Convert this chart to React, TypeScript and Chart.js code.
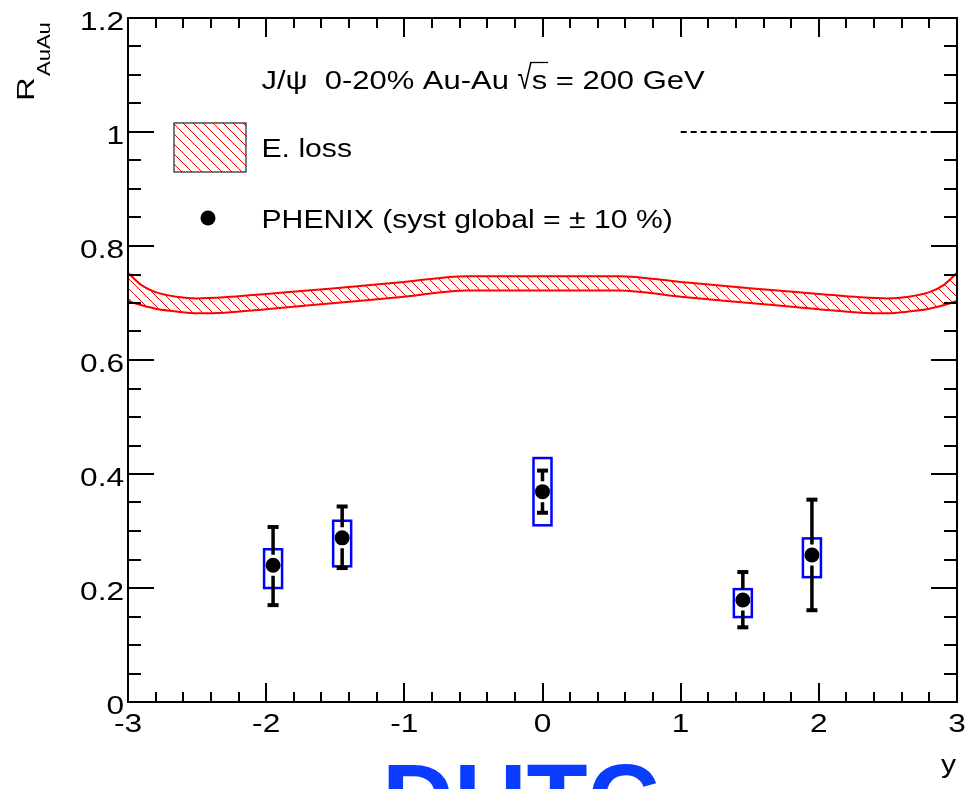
import React, { useEffect, useRef } from 'react';
import { Chart, registerables } from 'chart.js';

Chart.register(...registerables);

// ---- axis ticks ----
const xTickValues = [-3, -2, -1, 0, 1, 2, 3];
const xTickLabels = ['-3', '-2', '-1', '0', '1', '2', '3'];
const yTickValues = [0, 0.2, 0.4, 0.6, 0.8, 1, 1.2];
const yTickLabels = ['0', '0.2', '0.4', '0.6', '0.8', '1', '1.2'];

// ---- E. loss band (rapidity, upper and lower edge of R_AuAu) ----
const bandX = [-3, -2.9, -2.8, -2.65, -2.5, -2.3, -2, -1.5, -1, -0.55, 0, 0.55, 1, 1.5, 2, 2.3, 2.5, 2.65, 2.8, 2.9, 3];
const bandUpper = [0.753, 0.731, 0.719, 0.711, 0.708, 0.71, 0.716, 0.726, 0.737, 0.747, 0.747, 0.747, 0.737, 0.726, 0.716, 0.71, 0.708, 0.711, 0.719, 0.731, 0.753];
const bandLower = [0.7035, 0.696, 0.69, 0.685, 0.682, 0.683, 0.689, 0.7, 0.711, 0.722, 0.722, 0.722, 0.711, 0.7, 0.689, 0.683, 0.682, 0.685, 0.69, 0.696, 0.7035];

// ---- PHENIX J/psi data ----
const phenixRapidity = [-1.95, -1.45, 0, 1.45, 1.95];
const phenixRaa = [0.24, 0.288, 0.369, 0.179, 0.258];
const statHigh = [0.307, 0.343, 0.406, 0.228, 0.355];
const statLow = [0.17, 0.235, 0.332, 0.131, 0.161];
const systHigh = [0.268, 0.318, 0.428, 0.198, 0.287];
const systLow = [0.2, 0.238, 0.31, 0.149, 0.219];

// ---- reference line R = 1 ----
const refLineX = [1, 3];
const refLineY = [1, 1];

// ---- texts ----
const headerText = 'J/ψ  0-20% Au-Au ';
const headerSqrt = '√';
const headerS = 's';
const headerTail = ' = 200 GeV';
const legendBandLabel = 'E. loss';
const legendDataLabel = 'PHENIX (syst global = ± 10 %)';
const yTitleMain = 'R';
const yTitleSub = 'AuAu';
const xTitle = 'y';
const stampText = 'DUTC';

const FONT = '"Liberation Sans", Arial, Helvetica, sans-serif';

function makeHatch(): CanvasPattern | string {
  const s = 10;
  const c = document.createElement('canvas');
  c.width = s;
  c.height = s;
  const g = c.getContext('2d');
  if (!g) return 'rgba(255,0,0,0.3)';
  g.strokeStyle = '#ff0000';
  g.lineWidth = 1;
  g.beginPath();
  for (const o of [-s, 0, s]) {
    g.moveTo(o, 0);
    g.lineTo(o + s, s);
  }
  g.stroke();
  const p = g.createPattern(c, 'repeat');
  return p || 'rgba(255,0,0,0.3)';
}

function drawText(
  ctx: CanvasRenderingContext2D,
  text: string,
  x: number,
  y: number,
  font: string,
  sx: number,
  align: 'left' | 'center' | 'right' = 'left',
  color = '#000',
  sy = 1
) {
  ctx.save();
  ctx.font = font;
  ctx.fillStyle = color;
  ctx.textBaseline = 'alphabetic';
  ctx.textAlign = 'left';
  const w = ctx.measureText(text).width * sx;
  let left = x;
  if (align === 'center') left = x - w / 2;
  if (align === 'right') left = x - w;
  ctx.translate(left, y);
  ctx.scale(sx, sy);
  ctx.fillText(text, 0, 0);
  ctx.restore();
  return w;
}

function drawRotText(
  ctx: CanvasRenderingContext2D,
  text: string,
  baseX: number,
  startY: number,
  font: string,
  sx: number
) {
  ctx.save();
  ctx.font = font;
  ctx.fillStyle = '#000';
  ctx.textBaseline = 'alphabetic';
  ctx.textAlign = 'left';
  ctx.translate(baseX, startY);
  ctx.rotate(-Math.PI / 2);
  ctx.scale(sx, 1);
  ctx.fillText(text, 0, 0);
  ctx.restore();
}

export default function App() {
  const ref = useRef<HTMLCanvasElement | null>(null);

  useEffect(() => {
    const canvas = ref.current;
    if (!canvas) return;
    const hatch = makeHatch();

    const rootPlugin = {
      id: 'rootPlugin',
      beforeDatasetsDraw(chart: any) {
        const ctx: CanvasRenderingContext2D = chart.ctx;
        const xs = chart.scales.x;
        const ys = chart.scales.y;
        const r = 7.5;
        ctx.save();
        for (let i = 0; i < phenixRapidity.length; i++) {
          const px = xs.getPixelForValue(phenixRapidity[i]);
          const py = ys.getPixelForValue(phenixRaa[i]);
          // systematic box
          const bt = ys.getPixelForValue(systHigh[i]);
          const bb = ys.getPixelForValue(systLow[i]);
          ctx.strokeStyle = '#0000ff';
          ctx.lineWidth = 2.5;
          ctx.strokeRect(px - 9, bt, 18, bb - bt);
          // statistical bars
          const st = ys.getPixelForValue(statHigh[i]);
          const sb = ys.getPixelForValue(statLow[i]);
          ctx.strokeStyle = '#000';
          ctx.fillStyle = '#000';
          ctx.lineWidth = 3.5;
          ctx.beginPath();
          if (py - r - 3 > st) {
            ctx.moveTo(px, py - r - 3);
            ctx.lineTo(px, st);
          }
          if (py + r + 3 < sb) {
            ctx.moveTo(px, py + r + 3);
            ctx.lineTo(px, sb);
          }
          ctx.stroke();
          ctx.fillRect(px - 5.5, st - 2, 11, 4);
          ctx.fillRect(px - 5.5, sb - 2, 11, 4);
        }
        ctx.restore();
      },
      afterDraw(chart: any) {
        const ctx: CanvasRenderingContext2D = chart.ctx;
        const xs = chart.scales.x;
        const ys = chart.scales.y;
        const { left, right, top, bottom } = chart.chartArea;
        ctx.save();
        // frame
        ctx.strokeStyle = '#000';
        ctx.lineWidth = 2;
        ctx.strokeRect(left, top, right - left, bottom - top);
        // x ticks (every 0.2, major every 1)
        ctx.lineWidth = 2;
        ctx.beginPath();
        for (let k = -15; k <= 15; k++) {
          const v = k * 0.2;
          const px = Math.round(xs.getPixelForValue(v));
          const len = k % 5 === 0 ? 19 : 10;
          ctx.moveTo(px, bottom);
          ctx.lineTo(px, bottom - len);
          ctx.moveTo(px, top);
          ctx.lineTo(px, top + len);
        }
        // y ticks (every 0.05, major every 0.2)
        for (let k = 0; k <= 24; k++) {
          const v = k * 0.05;
          const py = Math.round(ys.getPixelForValue(v));
          const len = k % 4 === 0 ? 26 : 13;
          ctx.moveTo(left, py);
          ctx.lineTo(left + len, py);
          ctx.moveTo(right, py);
          ctx.lineTo(right - len, py);
        }
        ctx.stroke();

        // tick labels
        const tickFont = `25.5px ${FONT}`;
        const tsx = 1.24;
        xTickValues.forEach((v, i) => {
          drawText(ctx, xTickLabels[i], xs.getPixelForValue(v), 732, tickFont, tsx, 'center');
        });
        yTickValues.forEach((v, i) => {
          drawText(ctx, yTickLabels[i], 124, ys.getPixelForValue(v) + 11.5, tickFont, tsx, 'right');
        });

        // axis titles
        drawRotText(ctx, yTitleMain, 33.5, 101, `23.5px ${FONT}`, 1.4);
        drawRotText(ctx, yTitleSub, 50, 76, `18.5px ${FONT}`, 1.19);
        drawText(ctx, xTitle, 956, 773, `26px ${FONT}`, 1.16, 'right');

        // header
        const lf = `26px ${FONT}`;
        const lsx = 1.16;
        const hsx = 1.19;
        let hx = 261.5;
        hx += drawText(ctx, headerText, hx, 88.5, lf, hsx);
        const sqW = drawText(ctx, headerSqrt, hx, 88.5, lf, 1.0, 'left', '#000', 1.3);
        hx += sqW;
        const sW = drawText(ctx, headerS, hx, 88.5, lf, hsx);
        ctx.strokeStyle = '#000';
        ctx.lineWidth = 1.3;
        ctx.beginPath();
        ctx.moveTo(hx - 1.5, 62.5);
        ctx.lineTo(hx + sW + 1, 62.5);
        ctx.stroke();
        hx += sW;
        drawText(ctx, headerTail, hx, 88.5, lf, hsx);

        // legend: band
        ctx.fillStyle = hatch as any;
        ctx.fillRect(174, 123, 72, 49);
        ctx.strokeStyle = '#222';
        ctx.lineWidth = 1.2;
        ctx.strokeRect(174, 123, 72, 49);
        drawText(ctx, legendBandLabel, 261.5, 157, lf, lsx);
        // legend: data
        ctx.fillStyle = '#000';
        ctx.beginPath();
        ctx.arc(208, 218, 7.5, 0, Math.PI * 2);
        ctx.fill();
        drawText(ctx, legendDataLabel, 261.5, 227.5, lf, lsx);

        // blue stamp, cut by the bottom edge
        drawText(ctx, stampText, 382, 834, `bold 100px ${FONT}`, 1.0, 'left', '#0a3cff');
        ctx.restore();
      },
    };

    const bandUpperData = bandX.map((x, i) => ({ x, y: bandUpper[i] }));
    const bandLowerData = bandX.map((x, i) => ({ x, y: bandLower[i] }));
    const refData = refLineX.map((x, i) => ({ x, y: refLineY[i] }));
    const pointData = phenixRapidity.map((x, i) => ({ x, y: phenixRaa[i] }));

    const chart = new Chart(canvas, {
      type: 'scatter',
      data: {
        datasets: [
          {
            label: 'E. loss upper',
            data: bandUpperData,
            showLine: true,
            borderColor: '#ff0000',
            borderWidth: 2,
            pointRadius: 0,
            fill: false,
            cubicInterpolationMode: 'monotone',
          } as any,
          {
            label: 'E. loss',
            data: bandLowerData,
            showLine: true,
            borderColor: '#ff0000',
            borderWidth: 2,
            pointRadius: 0,
            backgroundColor: hatch as any,
            fill: '-1',
            cubicInterpolationMode: 'monotone',
          } as any,
          {
            label: 'R = 1',
            data: refData,
            showLine: true,
            borderColor: '#000',
            borderWidth: 2,
            borderDash: [6, 4],
            pointRadius: 0,
            fill: false,
          } as any,
          {
            label: 'PHENIX',
            data: pointData,
            showLine: false,
            pointRadius: 7.5,
            pointBackgroundColor: '#000',
            pointBorderColor: '#000',
            pointBorderWidth: 0,
            order: -1,
          } as any,
        ],
      },
      options: {
        responsive: false,
        animation: false,
        devicePixelRatio: 1,
        layout: { padding: { left: 128, right: 8, top: 18, bottom: 87 } },
        scales: {
          x: { type: 'linear', display: false, min: -3, max: 3 },
          y: { type: 'linear', display: false, min: 0, max: 1.2 },
        },
        plugins: {
          legend: { display: false },
          tooltip: { enabled: false },
        },
      },
      plugins: [rootPlugin],
    });

    return () => chart.destroy();
  }, []);

  return (
    <div style={{ position: 'absolute', left: 0, top: 0, width: 965, height: 789, background: '#fff' }}>
      <canvas ref={ref} width={965} height={789} style={{ display: 'block' }} />
    </div>
  );
}
